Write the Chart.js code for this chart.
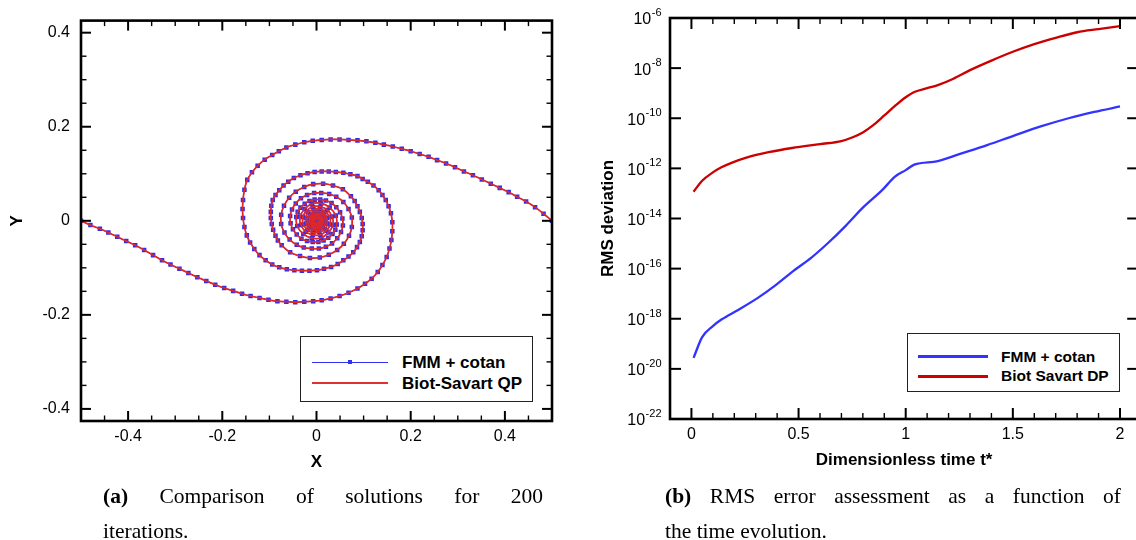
<!DOCTYPE html>
<html><head><meta charset="utf-8">
<script src="https://cdn.jsdelivr.net/npm/chart.js@4.4.1/dist/chart.umd.min.js"></script>
<style>
html,body{margin:0;padding:0;overflow:hidden;background:#fff}
body{width:1136px;height:540px;position:relative;font-family:"Liberation Sans",Arial,sans-serif;color:#000}
canvas{position:absolute;top:0}
#ca{left:0}
#cb{left:580px}
.leg{position:absolute;border:1.5px solid #222;background:#fff;box-sizing:border-box}
.ln{position:absolute}
.lt{position:absolute;font-weight:bold;white-space:nowrap;line-height:1}
.cap{position:absolute;font-family:"Liberation Serif","Times New Roman",serif;font-size:21.5px;line-height:35px;white-space:nowrap}
.j{text-align:justify;text-align-last:justify;white-space:normal}
</style>
</head><body>
<canvas id="ca" width="570" height="480"></canvas>
<canvas id="cb" width="580" height="480"></canvas>

<div class="leg" style="left:300px;top:336px;width:233px;height:66px"></div>
<div class="ln" style="left:312px;top:362px;width:76px;height:1px;background:#3030f0"></div>
<div class="ln" style="left:348px;top:360px;width:4px;height:4px;background:#3030f0"></div>
<div class="ln" style="left:312px;top:382px;width:76px;height:2px;background:#e03030"></div>
<div class="lt" style="left:402px;top:354px;font-size:17px">FMM + cotan</div>
<div class="lt" style="left:402px;top:375px;font-size:17px">Biot-Savart QP</div>

<div class="leg" style="left:907px;top:333px;width:213px;height:59px"></div>
<div class="ln" style="left:918px;top:355px;width:70px;height:3px;background:#3333ff"></div>
<div class="ln" style="left:918px;top:375px;width:70px;height:3px;background:#cc0000"></div>
<div class="lt" style="left:1001px;top:349px;font-size:15.5px">FMM + cotan</div>
<div class="lt" style="left:1001px;top:368px;font-size:15.5px">Biot Savart DP</div>

<div class="cap" style="left:103px;top:479px;width:440px">
  <div class="j"><b>(a)</b> Comparison of solutions for 200</div>
  <div>iterations.</div>
</div>
<div class="cap" style="left:665px;top:479px;width:456px">
  <div class="j"><b>(b)</b> RMS error assessment as a function of</div>
  <div>the time evolution.</div>
</div>

<script>
// ---------- Panel (a): vortex sheet roll-up, two spiral arms (x, y) ----------
const armA = [[-0.500,0.000],[-0.480,-0.009],[-0.460,-0.017],[-0.442,-0.025],[-0.423,-0.034],[-0.404,-0.043],[-0.385,-0.052],[-0.366,-0.062],[-0.347,-0.073],[-0.328,-0.084],[-0.310,-0.093],[-0.291,-0.102],[-0.272,-0.111],[-0.253,-0.120],[-0.234,-0.128],[-0.215,-0.136],[-0.196,-0.143],[-0.177,-0.149],[-0.158,-0.155],[-0.140,-0.160],[-0.121,-0.164],[-0.102,-0.168],[-0.083,-0.171],[-0.064,-0.172],[-0.045,-0.173],[-0.026,-0.172],[-0.007,-0.171],[0.011,-0.169],[0.030,-0.165],[0.049,-0.160],[0.068,-0.153],[0.087,-0.144],[0.103,-0.134],[0.117,-0.123],[0.130,-0.109],[0.140,-0.094],[0.149,-0.077],[0.155,-0.059],[0.159,-0.041],[0.161,-0.022],[0.161,-0.003],[0.158,0.016],[0.153,0.031],[0.147,0.044],[0.140,0.055],[0.132,0.065],[0.121,0.075],[0.109,0.083],[0.098,0.089],[0.087,0.095],[0.072,0.099],[0.057,0.102],[0.041,0.104],[0.026,0.105],[0.011,0.105],[-0.004,0.104],[-0.019,0.101],[-0.034,0.097],[-0.048,0.091],[-0.060,0.083],[-0.070,0.075],[-0.079,0.065],[-0.087,0.055],[-0.093,0.044],[-0.096,0.032],[-0.097,0.019],[-0.097,0.006],[-0.095,-0.007],[-0.092,-0.019],[-0.087,-0.032],[-0.082,-0.042],[-0.074,-0.052],[-0.056,-0.067],[-0.035,-0.075],[-0.014,-0.079],[0.007,-0.078],[0.026,-0.072],[0.044,-0.062],[0.058,-0.049],[0.069,-0.032],[0.075,-0.013],[0.075,0.007],[0.068,0.025],[0.057,0.040],[0.042,0.051],[0.027,0.057],[0.010,0.059],[-0.005,0.059],[-0.020,0.055],[-0.033,0.048],[-0.044,0.037],[-0.052,0.024],[-0.056,0.010],[-0.055,-0.005],[-0.050,-0.018],[-0.042,-0.029],[-0.032,-0.038],[-0.020,-0.043],[-0.008,-0.045],[0.004,-0.045],[0.015,-0.042],[0.025,-0.036],[0.034,-0.028],[0.040,-0.019],[0.043,-0.008],[0.041,0.011],[0.028,0.028],[0.010,0.037],[-0.010,0.036],[-0.025,0.025],[-0.035,0.009],[-0.033,-0.009],[-0.023,-0.023],[-0.008,-0.030],[0.008,-0.030],[0.021,-0.021],[0.029,-0.008],[0.028,0.008],[0.019,0.019],[0.007,0.025],[-0.006,0.024],[-0.018,0.018],[-0.023,0.006],[-0.022,-0.006],[-0.016,-0.016],[-0.005,-0.020],[0.005,-0.020],[0.014,-0.014],[0.019,-0.005],[0.018,0.005],[0.013,0.013],[0.004,0.016],[-0.004,0.016],[-0.011,0.011],[-0.015,0.004],[-0.014,-0.004],[-0.010,-0.010],[-0.004,-0.014],[0.003,-0.013],[0.009,-0.009],[0.012,-0.003],[0.012,0.003],[0.008,0.008],[0.003,0.011],[-0.003,0.010],[-0.007,0.007],[-0.009,0.002],[-0.009,-0.002],[-0.006,-0.006],[-0.002,-0.008],[0.002,-0.007],[0.005,-0.005],[0.006,-0.002],[0.006,0.002],[0.004,0.004],[0.001,0.005],[-0.001,0.004],[-0.003,0.003],[-0.003,0.001],[-0.001,-0.001]];

const armB = [[0.500,0.000],[0.482,0.015],[0.464,0.029],[0.445,0.041],[0.426,0.051],[0.408,0.061],[0.389,0.070],[0.370,0.079],[0.351,0.088],[0.332,0.097],[0.313,0.105],[0.294,0.114],[0.275,0.122],[0.256,0.129],[0.238,0.136],[0.219,0.142],[0.200,0.148],[0.181,0.153],[0.162,0.158],[0.143,0.162],[0.125,0.166],[0.106,0.169],[0.087,0.171],[0.068,0.172],[0.049,0.173],[0.030,0.173],[0.011,0.172],[-0.008,0.170],[-0.026,0.167],[-0.045,0.162],[-0.064,0.156],[-0.080,0.148],[-0.094,0.140],[-0.110,0.130],[-0.125,0.117],[-0.137,0.103],[-0.147,0.087],[-0.153,0.066],[-0.156,0.044],[-0.157,0.025],[-0.156,0.006],[-0.153,-0.013],[-0.148,-0.031],[-0.141,-0.046],[-0.132,-0.060],[-0.121,-0.073],[-0.108,-0.084],[-0.094,-0.093],[-0.079,-0.099],[-0.063,-0.103],[-0.047,-0.105],[-0.031,-0.106],[-0.015,-0.106],[0.001,-0.105],[0.016,-0.102],[0.031,-0.098],[0.045,-0.092],[0.057,-0.084],[0.068,-0.076],[0.078,-0.067],[0.086,-0.056],[0.092,-0.045],[0.096,-0.033],[0.098,-0.020],[0.098,-0.007],[0.096,0.006],[0.092,0.019],[0.087,0.031],[0.081,0.042],[0.073,0.052],[0.056,0.067],[0.035,0.075],[0.014,0.079],[-0.007,0.078],[-0.026,0.072],[-0.044,0.062],[-0.058,0.049],[-0.069,0.032],[-0.075,0.013],[-0.075,-0.007],[-0.068,-0.025],[-0.057,-0.040],[-0.042,-0.051],[-0.027,-0.057],[-0.010,-0.059],[0.005,-0.059],[0.020,-0.055],[0.033,-0.048],[0.044,-0.037],[0.052,-0.024],[0.056,-0.010],[0.055,0.005],[0.050,0.018],[0.042,0.029],[0.032,0.038],[0.020,0.043],[0.008,0.045],[-0.004,0.045],[-0.015,0.042],[-0.025,0.036],[-0.034,0.028],[-0.040,0.019],[-0.043,0.008],[-0.041,-0.011],[-0.028,-0.028],[-0.010,-0.037],[0.010,-0.036],[0.025,-0.025],[0.035,-0.009],[0.033,0.009],[0.023,0.023],[0.008,0.030],[-0.008,0.030],[-0.021,0.021],[-0.029,0.008],[-0.028,-0.008],[-0.019,-0.019],[-0.007,-0.025],[0.006,-0.024],[0.018,-0.018],[0.023,-0.006],[0.022,0.006],[0.016,0.016],[0.005,0.020],[-0.005,0.020],[-0.014,0.014],[-0.019,0.005],[-0.018,-0.005],[-0.013,-0.013],[-0.004,-0.016],[0.004,-0.016],[0.011,-0.011],[0.015,-0.004],[0.014,0.004],[0.010,0.010],[0.004,0.014],[-0.003,0.013],[-0.009,0.009],[-0.012,0.003],[-0.012,-0.003],[-0.008,-0.008],[-0.003,-0.011],[0.003,-0.010],[0.007,-0.007],[0.009,-0.002],[0.009,0.002],[0.006,0.006],[0.002,0.008],[-0.002,0.007],[-0.005,0.005],[-0.006,0.002],[-0.006,-0.002],[-0.004,-0.004],[-0.001,-0.005],[0.001,-0.004],[0.003,-0.003],[0.003,-0.001],[0.001,0.001]];

const xTicksA = [-0.4, -0.2, 0, 0.2, 0.4];
const yTicksA = [-0.4, -0.2, 0, 0.2, 0.4];

// ---------- Panel (b): RMS deviation vs dimensionless time ----------
const tBlue   = [0.01,0.05,0.10,0.14,0.22,0.31,0.39,0.47,0.56,0.64,0.72,0.80,0.89,0.95,1.00,1.04,1.15,1.25,1.38,1.50,1.63,1.76,1.88,2.00];
const rmsBlue = [2.75e-20,1.86e-19,5.1e-19,9.3e-19,2.3e-18,6.8e-18,2.1e-17,7.4e-17,2.75e-16,1.1e-15,5.1e-15,2.7e-14,1.35e-13,4.7e-13,8.5e-13,1.41e-12,1.95e-12,3.7e-12,8.5e-12,1.95e-11,4.7e-11,1.0e-10,1.78e-10,2.95e-10];
const tRed    = [0.01,0.05,0.10,0.14,0.19,0.26,0.36,0.47,0.60,0.70,0.75,0.80,0.85,0.90,0.95,1.00,1.04,1.10,1.15,1.22,1.30,1.40,1.50,1.60,1.70,1.80,1.90,2.00];
const rmsRed  = [1.17e-13,3.2e-13,6.9e-13,1.1e-12,1.7e-12,2.75e-12,4.4e-12,6.5e-12,9.3e-12,1.23e-11,1.7e-11,2.7e-11,5.4e-11,1.29e-10,3.1e-10,6.9e-10,1.12e-9,1.58e-9,2.1e-9,3.7e-9,8.3e-9,2.0e-8,4.5e-8,9.1e-8,1.62e-7,2.7e-7,3.6e-7,4.7e-7];
const xTicksB = [0, 0.5, 1, 1.5, 2];
const yExpB   = [-22, -20, -18, -16, -14, -12, -10, -8, -6];

Chart.defaults.font.family = "'Liberation Sans', Arial, Helvetica, sans-serif";
Chart.defaults.color = '#000';

function stepList(from, to, step, skip) {
  const out = [];
  for (let i = 0; from + i * step <= to + 1e-9; i++) {
    const v = +(from + i * step).toFixed(4);
    if (!skip.some(s => Math.abs(s - v) < 1e-6)) out.push(v);
  }
  return out;
}

const frameTicks = {
  id: 'frameTicks',
  afterDraw(chart, args, o) {
    const {ctx, chartArea: a, scales} = chart;
    const xs = scales.x, ys = scales.y;
    ctx.save();
    ctx.strokeStyle = '#000';
    ctx.lineCap = 'butt';
    const seg = (x1, y1, x2, y2) => { ctx.beginPath(); ctx.moveTo(x1, y1); ctx.lineTo(x2, y2); ctx.stroke(); };
    const doX = (vals, len, w) => {
      ctx.lineWidth = w;
      for (const v of vals) {
        const p = xs.getPixelForValue(v);
        seg(p, a.bottom, p, a.bottom - len);
        seg(p, a.top, p, a.top + len);
      }
    };
    const doY = (vals, len, w) => {
      ctx.lineWidth = w;
      for (const v of vals) {
        const p = ys.getPixelForValue(v);
        seg(a.left, p, a.left + len, p);
        seg(a.right, p, a.right - len, p);
      }
    };
    doX(o.xMinor, o.minLen, 1.4);
    doX(o.xMajor, o.majLen, 2);
    doY(o.yMinor, o.minLen, 1.4);
    doY(o.yMajor, o.majLen, 2);
    ctx.lineWidth = 2.6;
    ctx.strokeRect(a.left, a.top, a.right - a.left, a.bottom - a.top);
    if (o.logLabels) {
      ctx.fillStyle = '#000';
      ctx.textBaseline = 'middle';
      ctx.textAlign = 'left';
      const fb = "16px 'Liberation Sans', Arial, sans-serif";
      const fe = "11px 'Liberation Sans', Arial, sans-serif";
      for (const e of o.logLabels) {
        const p = ys.getPixelForValue(Math.pow(10, e));
        const base = '10', ex = String(e);
        ctx.font = fb;
        const wb = ctx.measureText(base).width;
        ctx.font = fe;
        const we = ctx.measureText(ex).width;
        const x0 = a.left - 9 - wb - we;
        ctx.font = fb;
        ctx.fillText(base, x0, p + 2);
        ctx.font = fe;
        ctx.fillText(ex, x0 + wb + 0.5, p - 5);
      }
    }
    ctx.restore();
  }
};

const pts = arr => arr.map(([x, y]) => ({x, y}));

new Chart(document.getElementById('ca'), {
  type: 'scatter',
  data: {
    datasets: [
      {label: 'Biot-Savart QP', data: pts(armA), showLine: true, borderColor: '#e02828', borderWidth: 1.7, pointRadius: 0, tension: 0.4},
      {label: 'Biot-Savart QP', data: pts(armB), showLine: true, borderColor: '#e02828', borderWidth: 1.7, pointRadius: 0, tension: 0.4},
      {label: 'FMM + cotan', data: pts(armA), showLine: true, borderColor: '#3030f0', borderWidth: 1, pointStyle: 'rect', pointRadius: 3.2, pointBackgroundColor: '#2e2ef2', pointBorderWidth: 0, tension: 0.4},
      {label: 'FMM + cotan', data: pts(armB), showLine: true, borderColor: '#3030f0', borderWidth: 1, pointStyle: 'rect', pointRadius: 3.2, pointBackgroundColor: '#2e2ef2', pointBorderWidth: 0, tension: 0.4}
    ]
  },
  options: {
    responsive: false, animation: false, devicePixelRatio: 1,
    layout: {padding: {left: 0, top: 20, right: 18, bottom: 0}},
    plugins: {
      legend: {display: false}, tooltip: {enabled: false},
      frameTicks: {
        xMajor: xTicksA, xMinor: stepList(-0.45, 0.45, 0.05, xTicksA),
        yMajor: yTicksA, yMinor: stepList(-0.35, 0.35, 0.05, yTicksA),
        majLen: 10, minLen: 5.5
      }
    },
    scales: {
      x: {
        type: 'linear', min: -0.5, max: 0.5,
        afterBuildTicks: s => { s.ticks = xTicksA.map(v => ({value: v})); },
        afterFit: s => { s.height = 59; },
        grid: {display: false, drawTicks: false}, border: {display: false},
        ticks: {padding: 6, font: {size: 16}, color: '#000', maxRotation: 0, callback: v => v === 0 ? '0' : v.toFixed(1)},
        title: {display: true, text: 'X', font: {size: 17, weight: 'bold'}, color: '#000', padding: {top: 0, bottom: 7}}
      },
      y: {
        type: 'linear', min: -0.4257, max: 0.4257,
        afterBuildTicks: s => { s.ticks = yTicksA.map(v => ({value: v})); },
        afterFit: s => { s.width = 81; },
        grid: {display: false, drawTicks: false}, border: {display: false},
        ticks: {padding: 11, font: {size: 16}, color: '#000', callback: v => v === 0 ? '0' : v.toFixed(1)},
        title: {display: true, text: 'Y', font: {size: 17, weight: 'bold'}, color: '#000', padding: {top: 7, bottom: 0}}
      }
    }
  },
  plugins: [frameTicks]
});

new Chart(document.getElementById('cb'), {
  type: 'line',
  data: {
    datasets: [
      {label: 'FMM + cotan', data: tBlue.map((t, i) => ({x: t, y: rmsBlue[i]})), borderColor: '#3333ff', borderWidth: 2.3, pointRadius: 0, cubicInterpolationMode: 'monotone'},
      {label: 'Biot Savart DP', data: tRed.map((t, i) => ({x: t, y: rmsRed[i]})), borderColor: '#cc0000', borderWidth: 2.3, pointRadius: 0, cubicInterpolationMode: 'monotone'}
    ]
  },
  options: {
    responsive: false, animation: false, devicePixelRatio: 1,
    layout: {padding: {left: 0, top: 18, right: 21.8, bottom: 0}},
    plugins: {
      legend: {display: false}, tooltip: {enabled: false},
      frameTicks: {
        xMajor: xTicksB, xMinor: stepList(0.1, 2.0, 0.1, xTicksB),
        yMajor: yExpB.map(e => Math.pow(10, e)), yMinor: [],
        majLen: 11, minLen: 6, logLabels: yExpB
      }
    },
    scales: {
      x: {
        type: 'linear', min: -0.1, max: 2.085,
        afterBuildTicks: s => { s.ticks = xTicksB.map(v => ({value: v})); },
        afterFit: s => { s.height = 61; },
        grid: {display: false, drawTicks: false}, border: {display: false},
        ticks: {padding: 6, font: {size: 16}, color: '#000', maxRotation: 0, callback: v => String(v)},
        title: {display: true, text: 'Dimensionless time t*', font: {size: 17, weight: 'bold'}, color: '#000', padding: {top: 0, bottom: 9}}
      },
      y: {
        type: 'logarithmic', min: 1e-22, max: 1e-6,
        afterBuildTicks: s => { s.ticks = yExpB.map(e => ({value: Math.pow(10, e)})); },
        afterFit: s => { s.width = 90; },
        grid: {display: false, drawTicks: false}, border: {display: false},
        ticks: {display: false},
        title: {display: true, text: 'RMS deviation', font: {size: 17, weight: 'bold'}, color: '#000', padding: {top: 18, bottom: 0}}
      }
    }
  },
  plugins: [frameTicks]
});
</script>
</body></html>
